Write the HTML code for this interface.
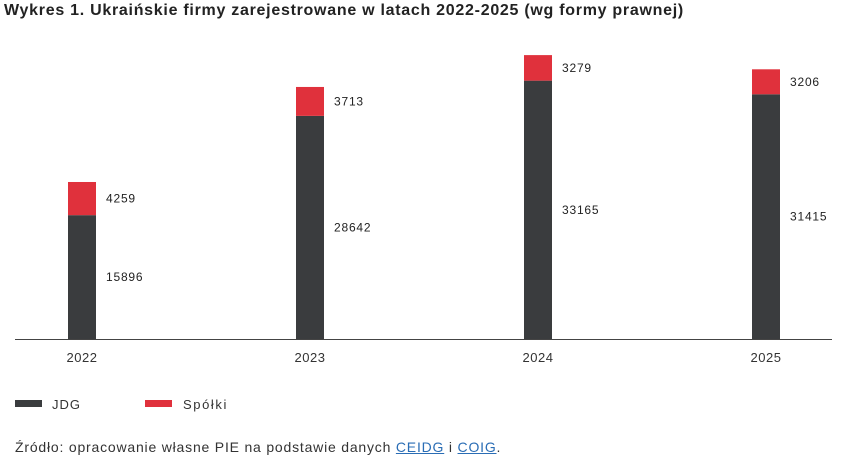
<!DOCTYPE html>
<html><head><meta charset="utf-8"><style>
body{margin:0;background:#fff;font-family:"Liberation Sans",sans-serif;}
#wrap{position:relative;width:846px;height:460px;overflow:hidden}
.title{position:absolute;left:4px;top:2px;font-size:16px;letter-spacing:0.72px;font-weight:bold;color:#222;white-space:nowrap}
.src{position:absolute;left:15px;top:439px;font-size:14px;letter-spacing:0.8px;color:#333;white-space:nowrap}
.src a{color:#2a6db5;text-decoration:underline}
</style></head><body>
<div id="wrap">
<div class="title">Wykres 1. Ukraińskie firmy zarejestrowane w latach 2022-2025 (wg formy prawnej)</div>
<svg id="chart" width="846" height="430" style="position:absolute;left:0;top:0"></svg>
<div class="src">Źródło: opracowanie własne PIE na podstawie danych <a>CEIDG</a> i <a>COIG</a>.</div>
</div>
<script>
const categories=["2022","2023","2024","2025"];
const jdg=[15896,28642,33165,31415];
const spolki=[4259,3713,3279,3206];
const NS="http://www.w3.org/2000/svg";
const svg=document.getElementById('chart');
const baseY=339, scale=0.00779;
function y(v){return baseY-v*scale;}
function x(i){return 82+i*228;}
function mk(tag,attrs,text){const e=document.createElementNS(NS,tag);for(const k in attrs)e.setAttribute(k,attrs[k]);if(text!==undefined)e.textContent=text;svg.appendChild(e);return e;}
const bw=28;
categories.forEach((c,i)=>{
  const cx=x(i);
  const b1=mk('rect',{x:cx-bw/2,y:y(jdg[i]),width:bw,height:baseY-y(jdg[i]),fill:'#3a3c3e'});
  
  
  const b2=mk('rect',{x:cx-bw/2,y:y(jdg[i]+spolki[i]),width:bw,height:y(jdg[i])-y(jdg[i]+spolki[i]),fill:'#e0313c'});
  
  
  const l1=mk('text',{x:cx+bw/2+10,y:(y(jdg[i])+baseY)/2+4,'font-size':12,'letter-spacing':0.8,fill:'#222','font-family':'Liberation Sans'},String(jdg[i]));
  
  
  const l2=mk('text',{x:cx+bw/2+10,y:(y(jdg[i])+y(jdg[i]+spolki[i]))/2+4,'font-size':12,'letter-spacing':0.8,fill:'#222','font-family':'Liberation Sans'},String(spolki[i]));
  
  
  const t=mk('text',{x:cx,y:362,'font-size':13,'letter-spacing':0.5,fill:'#333','text-anchor':'middle','font-family':'Liberation Sans'},c);
  
  
});
const ax=mk('line',{x1:15,x2:832,y1:baseY+0.5,y2:baseY+0.5,stroke:'#444','stroke-width':1});


const s1=mk('rect',{x:15,y:400,width:27,height:7,fill:'#3a3c3e'});


const t1=mk('text',{x:52,y:409,'font-size':13,'letter-spacing':1,fill:'#333','font-family':'Liberation Sans'},'JDG');


const s2=mk('rect',{x:145,y:400,width:27,height:7,fill:'#e0313c'});


const t2=mk('text',{x:183,y:409,'font-size':13,'letter-spacing':1.6,fill:'#333','font-family':'Liberation Sans'},'Spółki');


</script>
</body></html>
